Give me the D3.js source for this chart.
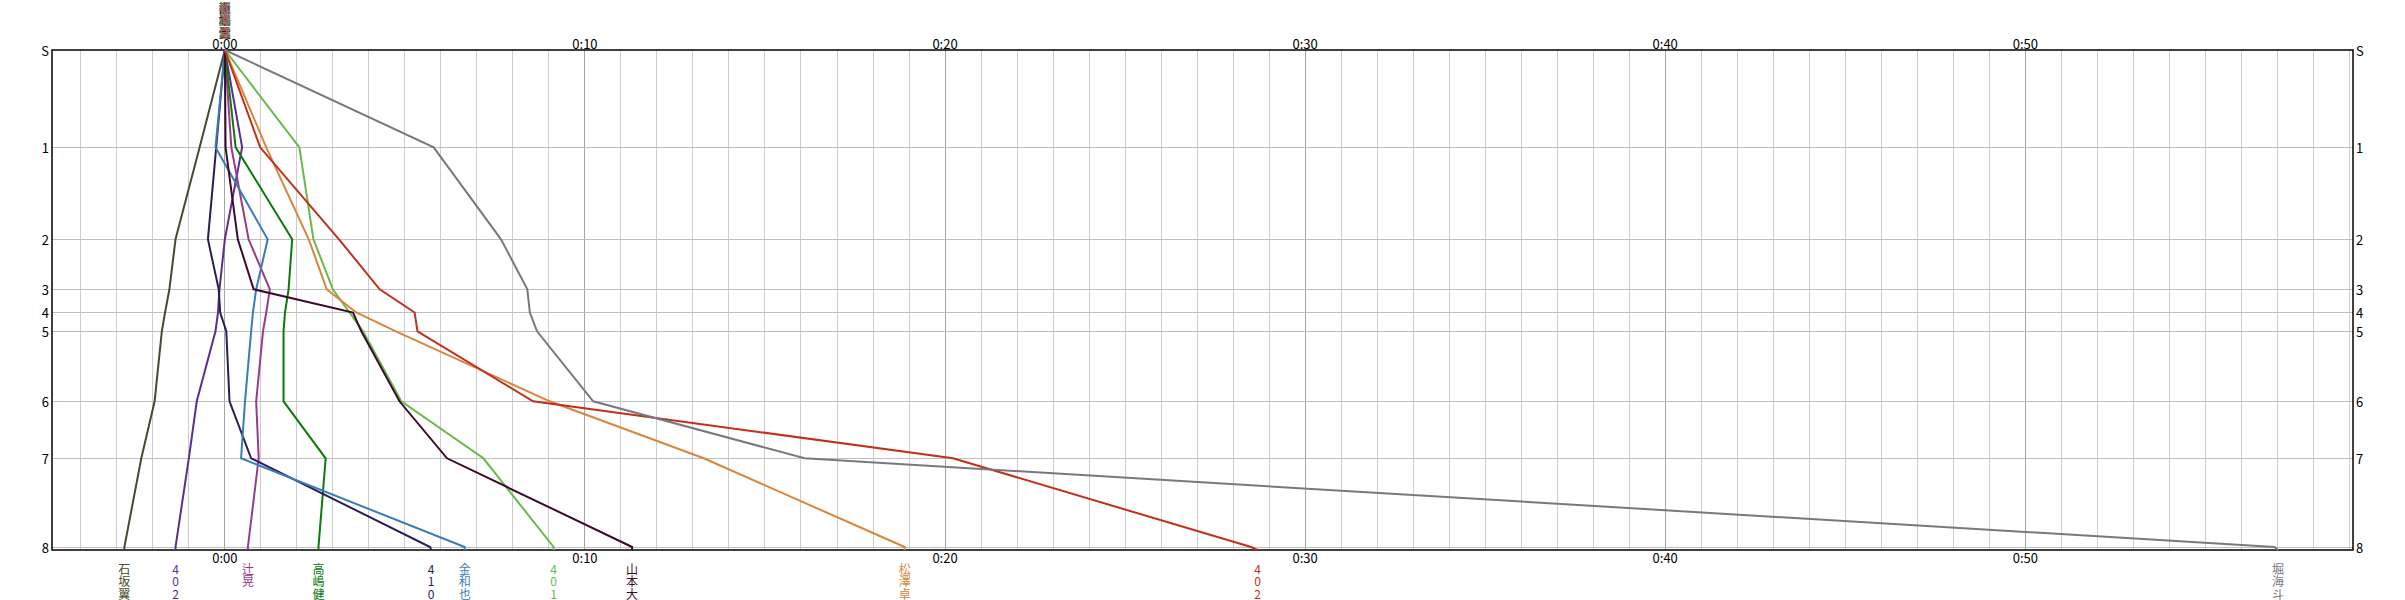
<!DOCTYPE html>
<html>
<head>
<meta charset="utf-8">
<script src="https://cdnjs.cloudflare.com/ajax/libs/d3/7.8.5/d3.min.js"></script>
<style>
  body { margin: 0; background: #fff; }
  text { font-family: "Noto Sans CJK JP", sans-serif; font-size: 12px; }
  .tick-label { font-size: 13px; }
</style>
</head>
<body>
<div id="chart-container"></div>
<script>

// Controls on the y axis (S, 1..8, finish) and their relative depth.
const controls = ["S", "1", "2", "3", "4", "5", "6", "7", "8", ""];
const controlDepth = [0, 19.46, 37.86, 47.86, 52.5, 56.26, 70.26, 81.66, 99.4, 100];

// Runners, in draw order.
const runnerNames = ["石坂翼", "402", "辻晃", "高嶋健", "410", "金和也", "401", "山本大", "松澤卓", "402", "堀海斗"];
const runnerColors = ["#464b2c", "#5c2e90", "#9a3a8c", "#0b7a0b", "#2c1d55", "#3a7cb8", "#6ab84c", "#3c0a2c", "#d9853b", "#c0301c", "#7c7681"];

// Minutes behind the reference at S, 1..8, F.
const ishizaka = [0, -0.70, -1.37, -1.54, -1.66, -1.75, -1.95, -2.32, -2.79, -2.79];
const r402a    = [0, 0.48, 0.00, -0.15, -0.19, -0.26, -0.78, -1.00, -1.37, -1.37];
const tsuji    = [0, 0.18, 0.66, 1.25, 1.15, 1.06, 0.87, 0.94, 0.64, 0.64];
const takashima= [0, 0.30, 1.87, 1.77, 1.67, 1.63, 1.63, 2.80, 2.60, 2.60];
const r410     = [0, -0.24, -0.47, -0.17, -0.13, 0.04, 0.13, 0.73, 5.70, 5.73];
const kin      = [0, -0.26, 1.19, 0.87, 0.78, 0.73, 0.56, 0.45, 6.66, 6.66];
const r401     = [0, 2.07, 2.46, 3.00, 3.46, 3.84, 4.90, 7.18, 9.13, 9.13];
const yamamoto = [0, 0.02, 0.36, 0.80, 3.56, 3.79, 4.85, 6.17, 11.31, 11.31];
const matsuzawa= [0, 1.15, 2.33, 2.83, 3.65, 4.75, 9.02, 13.30, 18.88, 18.88];
const r402b    = [0, 0.98, 3.17, 4.30, 5.27, 5.35, 8.56, 20.22, 28.50, 28.68];
const hori     = [0, 5.80, 7.67, 8.40, 8.47, 8.67, 10.23, 16.10, 56.92, 57.02];
const runnerSplits = [ishizaka, r402a, tsuji, takashima, r410, kin, r401, yamamoto, matsuzawa, r402b, hori];

// Time axis.
const minuteDomain = [-4.8, 59.1];
const majorTicks = [0, 10, 20, 30, 40, 50];
const minorTicks = d3.range(-4, 60);

let fWidth = 2405,
  fHeight = 600,
  plot = { left: 52, right: 2353, top: 50, bottom: 550 };

let chartCanvas = d3.select("#chart-container").append("svg")
  .attr("width", fWidth)
  .attr("height", fHeight)
  .style("background", "#fff");

let xScale = d3.scaleLinear().domain(minuteDomain).range([plot.left, plot.right]);
let yScale = d3.scaleLinear().domain([0, 100]).range([plot.top, plot.bottom]);

let fmt = m => `0:${ d3.format("02")(m) }`;

// Vertical grid.
chartCanvas.append("g")
  .selectAll("line")
  .data(minorTicks)
  .enter()
  .append("line")
    .attr("x1", d => xScale(d))
    .attr("x2", d => xScale(d))
    .attr("y1", plot.top)
    .attr("y2", plot.bottom)
    .attr("stroke", d => d % 10 === 0 ? "#a4a4a4" : "#cdcdcd")
    .attr("stroke-width", 1)
    .attr("shape-rendering", "crispEdges");

// Horizontal grid at controls.
chartCanvas.append("g")
  .selectAll("line")
  .data(controlDepth.slice(1, 9))
  .enter()
  .append("line")
    .attr("x1", plot.left)
    .attr("x2", plot.right)
    .attr("y1", d => yScale(d))
    .attr("y2", d => yScale(d))
    .attr("stroke", "#c0c0c0")
    .attr("stroke-width", 1)
    .attr("shape-rendering", "crispEdges");

// Frame.
chartCanvas.append("rect")
  .attr("x", plot.left)
  .attr("y", plot.top)
  .attr("width", plot.right - plot.left)
  .attr("height", plot.bottom - plot.top)
  .attr("fill", "none")
  .attr("stroke", "#000")
  .attr("stroke-width", 1.5);

// Time labels top and bottom.
[plot.top - 7, plot.bottom + 7].forEach(yy => {
  chartCanvas.append("g")
    .selectAll("text")
    .data(majorTicks)
    .enter()
    .append("text")
      .classed("tick-label", true)
      .attr("x", d => xScale(d))
      .attr("y", yy)
      .attr("text-anchor", "middle")
      .attr("dominant-baseline", "central")
      .text(d => fmt(d));
});

// Control labels left and right.
chartCanvas.append("g")
  .selectAll("text")
  .data(controls.slice(0, 9))
  .enter()
  .append("text")
    .classed("tick-label", true)
    .attr("x", plot.left - 3)
    .attr("y", (d, i) => yScale(controlDepth[i]))
    .attr("text-anchor", "end")
    .attr("dominant-baseline", "central")
    .text(d => d);

chartCanvas.append("g")
  .selectAll("text")
  .data(controls.slice(0, 9))
  .enter()
  .append("text")
    .classed("tick-label", true)
    .attr("x", plot.right + 3)
    .attr("y", (d, i) => yScale(controlDepth[i]))
    .attr("text-anchor", "start")
    .attr("dominant-baseline", "central")
    .text(d => d);

// Runner lines.
let pathGen = d3.line()
  .x(d => xScale(d))
  .y((d, i) => yScale(controlDepth[i]));

chartCanvas.append("g")
  .selectAll("path")
  .data(runnerSplits)
  .enter()
  .append("path")
    .attr("d", d => pathGen(d))
    .attr("fill", "none")
    .attr("stroke", (d, i) => runnerColors[i])
    .attr("stroke-width", 2);

// Vertical name labels (top at start, bottom at finish).
function nameLabels(yStart, pick) {
  runnerNames.forEach((name, i) => {
    let g = chartCanvas.append("g");
    Array.from(name).forEach((ch, k) => {
      g.append("text")
        .attr("x", xScale(pick(runnerSplits[i])))
        .attr("y", yStart + k * 12.5)
        .attr("text-anchor", "middle")
        .attr("dominant-baseline", "central")
        .attr("fill", runnerColors[i])
        .text(ch);
    });
  });
}
nameLabels(7, s => s[0]);
nameLabels(568, s => s[s.length - 1]);

</script>
</body>
</html>
